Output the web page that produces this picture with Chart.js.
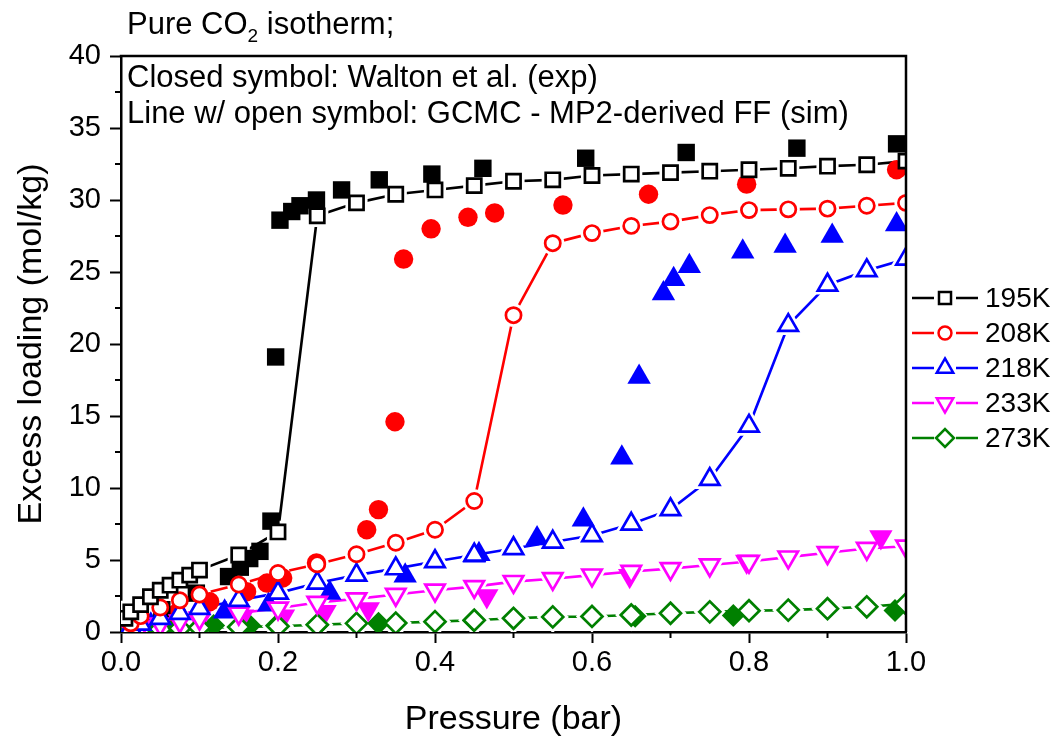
<!DOCTYPE html>
<html>
<head>
<meta charset="utf-8">
<script src="https://cdn.jsdelivr.net/npm/chart.js@4.4.1/dist/chart.umd.min.js"></script>
<style>
    html, body { margin: 0; padding: 0; background: #fff; }
    canvas { display: block; }
</style>
</head>
<body>
<canvas id="isothermChart" width="1054" height="744"></canvas>
<script>
// Sıcaklık etiketleri (legend)
const seriesLabels = ['195K', '208K', '218K', '233K', '273K'];

// Simülasyon (GCMC) basınç değerleri (bar)
const sim195Pressure = [0.005, 0.0125, 0.025, 0.0375, 0.05, 0.0625, 0.075, 0.0875, 0.1, 0.15, 0.2, 0.25, 0.3, 0.35, 0.4, 0.45, 0.5, 0.55, 0.6, 0.65, 0.7, 0.75, 0.8, 0.85, 0.9, 0.95, 1.0];
const simPressure = [0.0125, 0.025, 0.05, 0.075, 0.1, 0.15, 0.2, 0.25, 0.3, 0.35, 0.4, 0.45, 0.5, 0.55, 0.6, 0.65, 0.7, 0.75, 0.8, 0.85, 0.9, 0.95, 1.0];

// Simülasyon yükleme değerleri (mol/kg)
const sim195Loading = [0.95, 1.4, 1.9, 2.45, 2.9, 3.25, 3.6, 3.95, 4.3, 5.35, 6.95, 28.9, 29.8, 30.4, 30.7, 31.0, 31.3, 31.4, 31.7, 31.8, 31.9, 32.0, 32.1, 32.2, 32.35, 32.45, 32.7];
const sim208Loading = [0.6, 1.1, 1.7, 2.2, 2.6, 3.3, 4.1, 4.7, 5.4, 6.2, 7.1, 9.1, 22.0, 27.0, 27.7, 28.2, 28.5, 28.95, 29.3, 29.35, 29.4, 29.6, 29.8];
const sim218Loading = [0.3, 0.55, 0.95, 1.3, 1.65, 2.2, 2.7, 3.4, 3.95, 4.4, 4.9, 5.35, 5.8, 6.25, 6.7, 7.5, 8.5, 10.6, 14.3, 21.3, 24.1, 25.1, 25.9];
const sim233Loading = [0.2, 0.35, 0.55, 0.75, 0.95, 1.3, 1.65, 2.05, 2.3, 2.6, 2.9, 3.15, 3.5, 3.7, 3.95, 4.2, 4.4, 4.65, 4.9, 5.2, 5.5, 5.8, 5.95];
const sim273Loading = [0.1, 0.15, 0.2, 0.25, 0.3, 0.35, 0.4, 0.5, 0.6, 0.62, 0.72, 0.82, 0.95, 1.05, 1.08, 1.18, 1.3, 1.4, 1.48, 1.52, 1.62, 1.75, 1.95];

// Deneysel veriler (Walton et al.)
const exp195Pressure = [0.015, 0.052, 0.096, 0.137, 0.152, 0.164, 0.177, 0.191, 0.197, 0.2025, 0.2175, 0.228, 0.249, 0.281, 0.329, 0.396, 0.461, 0.592, 0.72, 0.861, 0.988];
const exp195Loading = [0.7, 1.55, 2.7, 3.85, 4.5, 5.1, 5.6, 7.7, 19.1, 28.6, 29.2, 29.6, 30.0, 30.7, 31.4, 31.8, 32.2, 32.9, 33.3, 33.6, 33.9];
const exp208Pressure = [0.011, 0.071, 0.113, 0.16, 0.186, 0.206, 0.249, 0.313, 0.328, 0.349, 0.36, 0.395, 0.442, 0.476, 0.563, 0.672, 0.797, 0.988];
const exp208Loading = [0.5, 1.3, 2.1, 2.8, 3.4, 3.75, 4.8, 7.1, 8.5, 14.6, 25.9, 28.0, 28.8, 29.1, 29.65, 30.4, 31.1, 32.1];
const exp218Pressure = [0.038, 0.132, 0.188, 0.266, 0.362, 0.45, 0.456, 0.53, 0.589, 0.638, 0.66, 0.691, 0.704, 0.724, 0.792, 0.846, 0.906, 0.988];
const exp218Loading = [0.5, 1.4, 1.9, 2.7, 3.9, 5.3, 5.4, 6.5, 7.8, 12.1, 17.7, 23.5, 24.5, 25.4, 26.4, 26.8, 27.5, 28.3];
const exp233Pressure = [0.02, 0.1, 0.155, 0.207, 0.26, 0.315, 0.466, 0.648, 0.797, 0.968];
const exp233Loading = [0.3, 0.8, 1.1, 1.1, 1.4, 1.6, 2.5, 3.9, 4.9, 6.6];
const exp273Pressure = [0.011, 0.06, 0.118, 0.164, 0.198, 0.251, 0.328, 0.449, 0.655, 0.78, 0.986];
const exp273Loading = [0.35, 0.3, 0.45, 0.45, 0.45, 0.5, 0.6, 0.8, 1.1, 1.15, 1.5];

// Eksen tick değerleri
const xMajorTicks = [0, 0.2, 0.4, 0.6, 0.8, 1.0];
const xMinorTicks = [0.1, 0.3, 0.5, 0.7, 0.9];
const yMajorTicks = [0, 5, 10, 15, 20, 25, 30, 35, 40];
const yMinorTicks = [2.5, 7.5, 12.5, 17.5, 22.5, 27.5, 32.5, 37.5];

const FONT = '"Liberation Sans", Arial, sans-serif';
const colors = ['#000000', '#ff0000', '#0000ff', '#ff00ff', '#008000'];

// Sembol stilleri: açık (sim) ve dolu (exp)
const openStyles = [
    { pointStyle: 'rect', radius: 10, rotation: 0 },
    { pointStyle: 'circle', radius: 7.6, rotation: 0 },
    { pointStyle: 'triangle', radius: 11.2, rotation: 0 },
    { pointStyle: 'triangle', radius: 11.2, rotation: 180 },
    { pointStyle: 'rectRot', radius: 10.5, rotation: 0 }
];
const filledStyles = [
    { pointStyle: 'rect', radius: 12.3, rotation: 0 },
    { pointStyle: 'circle', radius: 9.7, rotation: 0 },
    { pointStyle: 'triangle', radius: 13.5, rotation: 0 },
    { pointStyle: 'triangle', radius: 13.5, rotation: 180 },
    { pointStyle: 'rectRot', radius: 11.5, rotation: 0 }
];

const toPoints = (xs, ys) => xs.map((x, i) => ({ x: x, y: ys[i] }));

const simData = [
    toPoints(sim195Pressure, sim195Loading),
    toPoints(simPressure, sim208Loading),
    toPoints(simPressure, sim218Loading),
    toPoints(simPressure, sim233Loading),
    toPoints(simPressure, sim273Loading)
];
const expData = [
    toPoints(exp195Pressure, exp195Loading),
    toPoints(exp208Pressure, exp208Loading),
    toPoints(exp218Pressure, exp218Loading),
    toPoints(exp233Pressure, exp233Loading),
    toPoints(exp273Pressure, exp273Loading)
];

const datasets = [];
simData.forEach((pts, i) => {
    // çizgi
    datasets.push({
        label: seriesLabels[i] + ' line', data: pts, showLine: true,
        borderColor: colors[i], borderWidth: 2.6, pointRadius: 0,
        order: 40 + i, clip: 0
    });
    // sembol etrafındaki beyaz boşluk
    datasets.push({
        label: seriesLabels[i] + ' gap', data: pts, showLine: false,
        pointStyle: openStyles[i].pointStyle, pointRotation: openStyles[i].rotation,
        pointRadius: openStyles[i].radius, pointBorderWidth: 8,
        pointBorderColor: '#ffffff', pointBackgroundColor: '#ffffff',
        order: 30 + i, clip: 0
    });
    // açık sembol
    datasets.push({
        label: seriesLabels[i], data: pts, showLine: false,
        pointStyle: openStyles[i].pointStyle, pointRotation: openStyles[i].rotation,
        pointRadius: openStyles[i].radius, pointBorderWidth: 2.7,
        pointBorderColor: colors[i], pointBackgroundColor: '#ffffff',
        order: 10 + i, clip: 0
    });
});
expData.forEach((pts, i) => {
    datasets.push({
        label: seriesLabels[i] + ' exp', data: pts, showLine: false,
        pointStyle: filledStyles[i].pointStyle, pointRotation: filledStyles[i].rotation,
        pointRadius: filledStyles[i].radius, pointBorderWidth: 0,
        pointBorderColor: colors[i], pointBackgroundColor: colors[i],
        order: 20 + i, clip: 0
    });
});

// Çerçeve, ara tickler, başlıklar, notlar ve legend
const decorPlugin = {
    id: 'decor',
    afterDraw(chart) {
        const ctx = chart.ctx;
        const area = chart.chartArea;
        const xs = chart.scales.x;
        const ys = chart.scales.y;
        ctx.save();
        ctx.strokeStyle = '#000';
        ctx.lineWidth = 2.5;
        ctx.beginPath();
        ctx.moveTo(area.left - 1.25, area.top);
        ctx.lineTo(area.right, area.top);
        ctx.lineTo(area.right, area.bottom);
        ctx.stroke();

        ctx.lineWidth = 2;
        ctx.beginPath();
        xMinorTicks.forEach(v => {
            const px = xs.getPixelForValue(v);
            ctx.moveTo(px, area.bottom);
            ctx.lineTo(px, area.bottom + 6);
        });
        yMinorTicks.forEach(v => {
            const py = ys.getPixelForValue(v);
            ctx.moveTo(area.left, py);
            ctx.lineTo(area.left - 6, py);
        });
        ctx.stroke();

        // eksen başlıkları
        ctx.fillStyle = '#000';
        ctx.font = '34px ' + FONT;
        ctx.textAlign = 'center';
        ctx.textBaseline = 'alphabetic';
        ctx.fillText('Pressure (bar)', (area.left + area.right) / 2, 729);
        ctx.save();
        ctx.translate(41, (area.top + area.bottom) / 2);
        ctx.rotate(-Math.PI / 2);
        ctx.fillText('Excess loading (mol/kg)', 0, 0);
        ctx.restore();

        // notlar
        ctx.textAlign = 'left';
        ctx.font = '31px ' + FONT;
        let x = 127;
        ctx.fillText('Pure CO', x, 34);
        x += ctx.measureText('Pure CO').width;
        ctx.font = '19px ' + FONT;
        ctx.fillText('2', x, 42);
        x += ctx.measureText('2').width;
        ctx.font = '31px ' + FONT;
        ctx.fillText(' isotherm;', x, 34);
        ctx.fillText('Closed symbol: Walton et al. (exp)', 127, 87);
        ctx.fillText('Line w/ open symbol: GCMC - MP2-derived FF (sim)', 127, 123);

        // legend
        ctx.font = '28px ' + FONT;
        ctx.textBaseline = 'middle';
        seriesLabels.forEach((lab, i) => {
            const y = 298 + i * 35;
            ctx.strokeStyle = colors[i];
            ctx.fillStyle = '#fff';
            ctx.lineWidth = 2.5;
            ctx.beginPath();
            ctx.moveTo(912, y);
            ctx.lineTo(934, y);
            ctx.moveTo(956, y);
            ctx.lineTo(978, y);
            ctx.stroke();
            const st = openStyles[i];
            Chart.helpers.drawPoint(ctx, {
                pointStyle: st.pointStyle, rotation: st.rotation,
                radius: st.radius * 0.85, borderWidth: 2.7
            }, 945, y);
            ctx.fillStyle = '#000';
            ctx.fillText(lab, 985, y + 1);
        });
        ctx.restore();
    }
};

const ctx = document.getElementById('isothermChart').getContext('2d');
new Chart(ctx, {
    type: 'scatter',
    data: { datasets: datasets },
    options: {
        responsive: false,
        animation: false,
        devicePixelRatio: 1,
        layout: { padding: { left: 0, top: 56, right: 148, bottom: 0 } },
        plugins: { legend: { display: false }, tooltip: { enabled: false } },
        scales: {
            x: {
                type: 'linear', min: 0, max: 1,
                afterFit: s => { s.height = 112; },
                afterBuildTicks: s => { s.ticks = xMajorTicks.map(v => ({ value: v })); },
                ticks: {
                    color: '#000', padding: 3,
                    font: { family: FONT, size: 29 },
                    callback: v => v.toFixed(1)
                },
                grid: { drawOnChartArea: false, drawTicks: true, tickLength: 11, tickWidth: 2, tickColor: '#000' },
                border: { color: '#000', width: 2.5 }
            },
            y: {
                type: 'linear', min: 0, max: 40,
                afterFit: s => { s.width = 121; },
                afterBuildTicks: s => { s.ticks = yMajorTicks.map(v => ({ value: v })); },
                ticks: {
                    color: '#000', padding: 9,
                    font: { family: FONT, size: 29 },
                    callback: v => String(v)
                },
                grid: { drawOnChartArea: false, drawTicks: true, tickLength: 11, tickWidth: 2, tickColor: '#000' },
                border: { color: '#000', width: 2.5 }
            }
        }
    },
    plugins: [decorPlugin]
});
</script>
</body>
</html>
